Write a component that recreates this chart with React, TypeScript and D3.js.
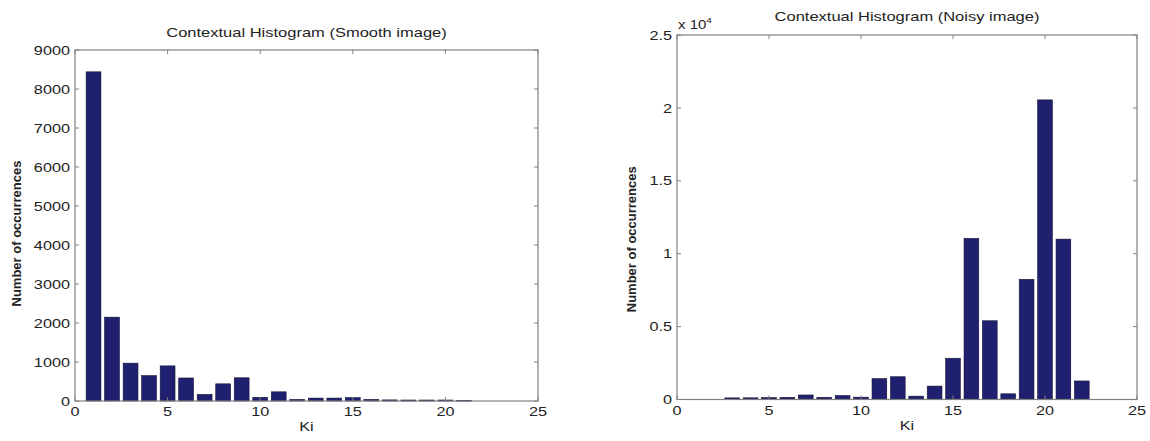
import React from "react";
import * as d3 from "d3";

const smoothKi = [1, 2, 3, 4, 5, 6, 7, 8, 9, 10, 11, 12, 13, 14, 15, 16, 17, 18, 19, 20, 21];
const smoothCounts = [8440, 2150, 970, 650, 900, 590, 170, 440, 595, 95, 235, 40, 75, 75, 85, 40, 28, 25, 25, 25, 18];
const smoothYTicks = [0, 1000, 2000, 3000, 4000, 5000, 6000, 7000, 8000, 9000];

const noisyKi = [3, 4, 5, 6, 7, 8, 9, 10, 11, 12, 13, 14, 15, 16, 17, 18, 19, 20, 21, 22];
const noisyCounts = [110, 115, 130, 150, 310, 150, 270, 160, 1430, 1560, 230, 920, 2830, 11050, 5400, 390, 8240, 20550, 11000, 1270];
const noisyYTicks = [0, 0.5, 1, 1.5, 2, 2.5];
const noisyScale = 10000;

const xTicks = [0, 5, 10, 15, 20, 25];

const FONT = "'Liberation Sans', Arial, sans-serif";
const BAR_FILL = "#202070";
const AXIS = "#808080";
const SX = 1.25;

function T(props: { x: number; y: number; anchor?: string; size: number; sx?: number; bold?: boolean; dy?: string; children: React.ReactNode }) {
  return (
    <text transform={`translate(${props.x},${props.y}) scale(${props.sx ?? SX},1)`}
      textAnchor={props.anchor ?? "middle"} fontSize={props.size} dy={props.dy}
      fontWeight={props.bold ? "bold" : "normal"} fill="#222">{props.children}</text>
  );
}

type PanelProps = {
  left: number; right: number; top: number; bottom: number;
  ki: number[]; values: number[]; yMax: number; yTicks: number[]; yDiv: number;
  title: string; titleY: number; yLabelX: number; yLabelDy: number; exponent?: boolean;
};

function Panel(p: PanelProps) {
  const x = d3.scaleLinear().domain([0, 25]).range([p.left, p.right]);
  const y = d3.scaleLinear().domain([0, p.yMax]).range([p.bottom, p.top]);
  const bw = (x(1) - x(0)) * 0.8;
  const tl = 4;
  const cx = (p.left + p.right) / 2;
  return (
    <g fontFamily={FONT}>
      {p.ki.map((k, i) => {
        const v = p.values[i];
        const yy = y(v);
        return (
          <rect key={k} x={x(k) - bw / 2} y={yy} width={bw} height={Math.max(p.bottom - yy, 0.8)}
            fill={BAR_FILL} stroke="#111133" strokeWidth={0.6} />
        );
      })}
      <rect x={p.left} y={p.top} width={p.right - p.left} height={p.bottom - p.top}
        fill="none" stroke={AXIS} strokeWidth={1.2} />
      {xTicks.map((t) => (
        <g key={"x" + t}>
          <line x1={x(t)} x2={x(t)} y1={p.bottom} y2={p.bottom - tl} stroke={AXIS} />
          <line x1={x(t)} x2={x(t)} y1={p.top} y2={p.top + tl} stroke={AXIS} />
          <T x={x(t)} y={p.bottom + 15} size={13}>{t}</T>
        </g>
      ))}
      {p.yTicks.map((t) => (
        <g key={"y" + t}>
          <line x1={p.left} x2={p.left + tl} y1={y(t * p.yDiv)} y2={y(t * p.yDiv)} stroke={AXIS} />
          <line x1={p.right} x2={p.right - tl} y1={y(t * p.yDiv)} y2={y(t * p.yDiv)} stroke={AXIS} />
          <T x={p.left - 5} y={y(t * p.yDiv)} dy="0.36em" anchor="end" size={13}>{t}</T>
        </g>
      ))}
      <T x={cx} y={p.titleY} size={13} sx={1.27}>{p.title}</T>
      <T x={cx} y={p.bottom + 30} size={13}>Ki</T>
      <text transform={`translate(${p.yLabelX},${(p.top + p.bottom) / 2 + p.yLabelDy}) rotate(-90)`}
        textAnchor="middle" fontSize={13} fontWeight="bold" fill="#222">Number of occurrences</text>
      {p.exponent && (
        <text transform={`translate(${p.left + 1},${p.top - 6}) scale(${SX},1)`} fontSize={12} fill="#222">
          x 10<tspan dy={-6} fontSize={8}>4</tspan>
        </text>
      )}
    </g>
  );
}

export default function App() {
  return (
    <svg width={1150} height={441} style={{ position: "absolute", left: 0, top: 0, background: "#fff" }}>
      <rect width={1150} height={441} fill="#fff" />
      <Panel left={75} right={538} top={50} bottom={401} ki={smoothKi} values={smoothCounts}
        yMax={9000} yTicks={smoothYTicks} yDiv={1} title="Contextual Histogram (Smooth image)"
        titleY={37} yLabelX={21} yLabelDy={8} />
      <Panel left={677} right={1137} top={35} bottom={399.5} ki={noisyKi} values={noisyCounts}
        yMax={25000} yTicks={noisyYTicks} yDiv={noisyScale} title="Contextual Histogram (Noisy image)"
        titleY={21} yLabelX={636} yLabelDy={22} exponent />
    </svg>
  );
}
